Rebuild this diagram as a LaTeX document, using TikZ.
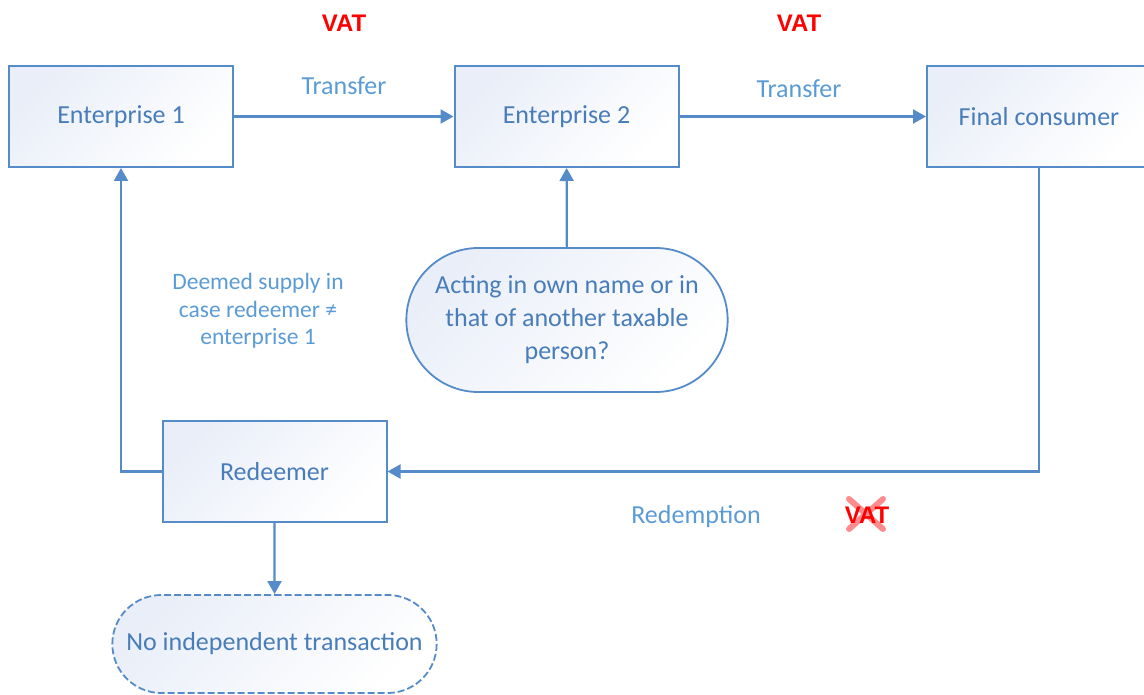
\documentclass[tikz,border=0pt]{standalone}
\usepackage{fontspec}
\setmainfont{Carlito}
\newfontfamily\vatfont{Liberation Sans}
\usetikzlibrary{shapes.misc,arrows.meta}
\definecolor{boxline}{RGB}{84,139,200}
\definecolor{boxtext}{RGB}{72,125,186}
\definecolor{labeltext}{RGB}{91,155,213}
\definecolor{boxfill}{RGB}{233,238,248}
\begin{document}
\begin{tikzpicture}[x=1pt,y=-1pt,
    party/.style={draw=boxline,line width=2pt,left color=boxfill,right color=white,shading angle=45,
      minimum width=224pt,minimum height=101pt,text=boxtext,font=\fontsize{26}{30}\selectfont},
    query/.style={rounded rectangle,draw=boxline,line width=1.8pt,left color=boxfill,right color=white,
      shading angle=45,text=boxtext,align=center,font=\fontsize{26}{33}\selectfont},
    flow/.style={draw=boxline,line width=2.2pt,-{Triangle[length=13pt,width=14pt]}},
    lbl/.style={text=labeltext,font=\fontsize{26}{30}\selectfont},
    vat/.style={text=red,font=\vatfont\bfseries\fontsize{24}{28}\selectfont}]
  \useasboundingbox (0,0) rectangle (1144,695);
  % parties
  \node[party] (ent1) at (121,116.5) {Enterprise 1};
  \node[party] (ent2) at (566.5,116.5) {Enterprise 2};
  \node[party] (final) at (1039,116.5) {Final consumer};
  \node[party] (redeem) at (274.5,471.5) {Redeemer};
  \node[query,minimum width=328pt,minimum height=144pt] (acting) at (567,320)
    {Acting in own name or in\\that of another taxable\\person?};
  \node[query,dashed,dash pattern=on 7pt off 3pt,minimum width=331pt,minimum height=98pt]
    (noind) at (274.5,644) {No independent transaction};
  % labels
  \node[vat] (vat1) at (344,23) {VAT};
  \node[vat] (vat2) at (799,23) {VAT};
  \node[lbl] (tr1) at (344,86) {Transfer};
  \node[lbl] (tr2) at (799,89) {Transfer};
  \node[lbl] (redemp) at (696,517) {Redemption};
  \node[vat] (vat3) at (867,515) {VAT};
  \draw[red,opacity=0.45,line width=6pt,line cap=round]
    (vat3.center) +(-18,-16) -- +(16,14) (vat3.center) +(16,-16) -- +(-18,14);
  \node[text=labeltext,align=center,font=\fontsize{23.5}{27.5}\selectfont] (deemed) at (258,311)
    {Deemed supply in\\case redeemer \char"2260\\enterprise 1};
  % connectors
  \draw[flow] (ent1) -- (ent2);
  \draw[flow] (ent2) -- (final);
  \draw[flow] (acting) -- (ent2);
  \draw[flow] (final.south) |- (redeem.east);
  \draw[flow] (redeem.west) -| (ent1.south);
  \draw[flow] (redeem) -- (noind);
\end{tikzpicture}
\end{document}
